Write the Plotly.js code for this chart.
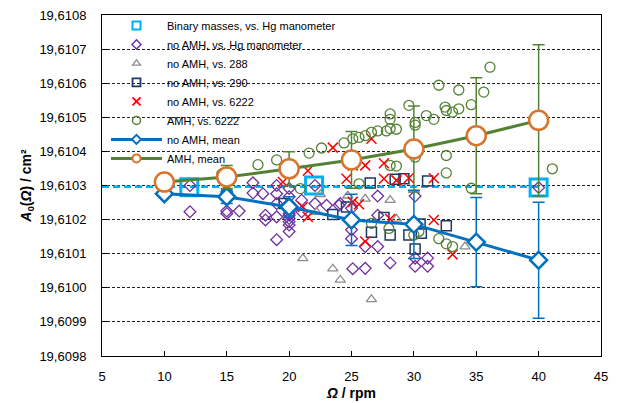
<!DOCTYPE html>
<html>
<head>
<meta charset="utf-8">
<script src="https://cdn.plot.ly/plotly-3.0.1.min.js"></script>
<style>html,body{margin:0;padding:0;background:#fff;}#chart{width:630px;height:403px;}</style>
</head>
<body>
<div id="chart"></div>
<script>
// ---- data ----
const binaryX = [12, 22, 40];
const binaryY = [19.610295, 19.610300, 19.610294];

const hgX = [12.05,12.05,15.0,15.0,15.0,15.0,16.0,17.1,17.1,17.9,18.1,18.1,19.0,19.0,19.0,19.0,19.0,
  20.0,20.0,20.0,20.0,20.0,20.0,20.0,20.0,20.0,20.0,21.0,21.0,22.07,22.07,23.0,24.0,24.1,
  25.0,25.0,25.0,25.0,25.1,26.1,26.1,27.1,27.1,27.1,28.1,30.1,30.1,30.1,31.1,31.1,40.0];
const hgY = [19.610300,19.610223,19.610308,19.610281,19.610225,19.610218,19.610225,19.610308,19.610278,
  19.610276,19.610213,19.610199,19.610300,19.610276,19.610247,19.610208,19.610141,
  19.610291,19.610267,19.610247,19.610228,19.610218,19.610213,19.610203,19.610194,19.610184,19.610165,
  19.610257,19.610223,19.610300,19.610247,19.610242,19.610242,19.610247,
  19.610233,19.610194,19.610170,19.610144,19.610056,19.610121,19.610057,19.610269,19.610213,19.610121,
  19.610073,19.610269,19.610087,19.610063,19.610087,19.610063,19.610294];

const s288X = [21.1,22.2,22.5,23.5,24.1,24.7,26.1,26.6,28.1,28.6,34.1];
const s288Y = [19.610086,19.610222,19.610274,19.610056,19.610023,19.610270,19.610261,19.609966,19.610257,19.610202,19.610121];

const s290X = [19.6,23.5,24.6,26.5,26.6,27.6,28.1,28.5,29.2,29.6,30.1,30.5,30.6,31.1,32.6];
const s290Y = [19.610247,19.610215,19.610237,19.610307,19.610163,19.610206,19.610155,19.610318,19.610320,
  19.610155,19.610114,19.610187,19.610160,19.610313,19.610182];

const s6222X = [19.5,21.1,21.5,21.5,23.5,24.6,25.1,25.1,25.6,26.1,26.1,26.6,27.6,27.6,28.1,28.6,29.6,31.6,31.6,33.1];
const s6222Y = [19.610310,19.610237,19.610343,19.610208,19.610411,19.610320,19.610359,19.610252,19.610245,
  19.610359,19.610136,19.610437,19.610365,19.610320,19.610202,19.610315,19.610322,19.610321,19.610199,19.610098];

const amhX = [14.6,17.5,19.0,20.9,21.6,22.6,24.4,25.1,25.6,25.6,26.1,26.6,26.6,27.1,27.8,28.0,28.1,28.1,28.1,28.1,
  28.6,28.6,29.6,30.0,30.1,30.1,30.1,30.4,31.0,31.6,32.0,32.0,32.5,32.6,32.6,32.6,32.6,33.1,33.1,33.6,33.6,
  34.6,34.6,35.6,36.1,41.1];
const amhY = [19.610334,19.610361,19.610375,19.610291,19.610395,19.610410,19.610425,19.610437,19.610441,19.610305,
  19.610446,19.610456,19.610189,19.610460,19.610460,19.610174,19.610510,19.610494,19.610467,19.610359,
  19.610465,19.610357,19.610535,19.610155,19.610485,19.610477,19.610383,19.610165,19.610505,19.610494,
  19.610594,19.610144,19.610530,19.610520,19.610388,19.610337,19.610129,19.610515,19.610121,19.610580,19.610525,
  19.610537,19.610292,19.610574,19.610647,19.610349];

const meanX = [10, 15, 20, 25, 30, 35, 40];
const noAmhMean = [19.610276,19.610267,19.610237,19.610199,19.610186,19.610134,19.610081];
const noAmhErr  = [0, 0.000020, 0.000030, 0.000075, 0.000100, 0.000131, 0.000170];
const amhMean   = [19.610310,19.610325,19.610349,19.610375,19.610407,19.610446,19.610491];
const amhErr    = [0, 0.000034, 0.000050, 0.000083, 0.000126, 0.000170, 0.000222];

const seriesNames = ['Binary masses, vs. Hg manometer', 'no AMH, vs. Hg manometer', 'no AMH, vs. 288',
  'no AMH, vs. 290', 'no AMH, vs. 6222', 'AMH, vs. 6222', 'no AMH, mean', 'AMH, mean'];

const xRange = [5, 45];
const yRange = [19.6098, 19.6108];

// derived: mean of binary masses as a dashed line from axis start to last binary point
const binaryMean = binaryY.reduce((a, b) => a + b, 0) / binaryY.length;
const binaryLineX = [xRange[0], Math.max(...binaryX)];
const binaryLineY = binaryLineX.map(() => binaryMean);

const C = {bin: '#00B0F0', hg: '#7030A0', g288: '#8C8C8C', n290: '#1F3864', red: '#FF0000',
           green: '#548235', blue: '#0070C0', orange: '#D9742C'};

const traces = [
  {x: binaryLineX, y: binaryLineY, mode: 'lines', showlegend: false, hoverinfo: 'skip',
   line: {color: C.bin, width: 2.5, dash: '7px,4px'}},
  {x: binaryX, y: binaryY, mode: 'markers', showlegend: false,
   marker: {symbol: 'square-open', size: 17, color: C.bin, line: {width: 3, color: C.bin}}},
  {x: hgX, y: hgY, mode: 'markers', showlegend: false,
   marker: {symbol: 'diamond-open', size: 9, color: C.hg, line: {width: 1.3, color: C.hg}}},
  {x: s288X, y: s288Y, mode: 'markers', showlegend: false,
   marker: {symbol: 'triangle-up-open', size: 9, color: C.g288, line: {width: 1.3, color: C.g288}}},
  {x: s290X, y: s290Y, mode: 'markers', showlegend: false,
   marker: {symbol: 'square-open', size: 10, color: C.n290, line: {width: 1.5, color: C.n290}}},
  {x: s6222X, y: s6222Y, mode: 'markers', showlegend: false,
   marker: {symbol: 'x-thin', size: 10, color: C.red, line: {width: 1.5, color: C.red}}},
  {x: amhX, y: amhY, mode: 'markers', showlegend: false,
   marker: {symbol: 'circle-open', size: 10, color: C.green, line: {width: 1.3, color: C.green}}},
  {x: meanX, y: noAmhMean, mode: 'lines+markers', showlegend: false,
   line: {color: C.blue, width: 3},
   marker: {symbol: 'diamond', size: 13, color: '#ffffff', line: {width: 2.5, color: C.blue}},
   error_y: {type: 'data', array: noAmhErr, visible: true, color: C.blue, thickness: 1.5, width: 6}},
  {x: meanX, y: amhMean, mode: 'lines+markers', showlegend: false,
   line: {color: C.green, width: 3},
   marker: {symbol: 'circle', size: 19, color: '#ffffff', line: {width: 2.5, color: C.orange}},
   error_y: {type: 'data', array: amhErr, visible: true, color: C.green, thickness: 1.5, width: 6}}
];

// legend-only entries (no data points), with the small key symbols of the reference
const legendStyles = [
  {mode: 'markers', marker: {symbol: 'square-open', size: 8, color: C.bin, line: {width: 2, color: C.bin}}},
  {mode: 'markers', marker: {symbol: 'diamond-open', size: 7, color: C.hg, line: {width: 1.4, color: C.hg}}},
  {mode: 'markers', marker: {symbol: 'triangle-up-open', size: 7, color: C.g288, line: {width: 1.3, color: C.g288}}},
  {mode: 'markers', marker: {symbol: 'square-open', size: 8, color: C.n290, line: {width: 1.8, color: C.n290}}},
  {mode: 'markers', marker: {symbol: 'x-thin', size: 8, color: C.red, line: {width: 1.8, color: C.red}}},
  {mode: 'markers', marker: {symbol: 'circle-open', size: 8, color: C.green, line: {width: 1.5, color: C.green}}},
  {mode: 'lines+markers', line: {color: C.blue, width: 3},
   marker: {symbol: 'diamond', size: 7, color: '#ffffff', line: {width: 2, color: C.blue}}},
  {mode: 'lines+markers', line: {color: C.green, width: 3},
   marker: {symbol: 'circle', size: 8, color: '#ffffff', line: {width: 2, color: C.orange}}}
];
legendStyles.forEach((s, i) => {
  traces.push(Object.assign({x: [null], y: [null], name: seriesNames[i], showlegend: true, hoverinfo: 'skip'}, s));
});

const layout = {
  width: 630, height: 403,
  margin: {l: 102, r: 29, t: 11, b: 47},
  paper_bgcolor: '#ffffff', plot_bgcolor: '#ffffff',
  font: {family: 'Liberation Sans, Arial, sans-serif', color: '#000', size: 13},
  separators: ',.',
  showlegend: true,
  legend: {x: 0.008, y: 1.012, xanchor: 'left', yanchor: 'top', bgcolor: 'rgba(0,0,0,0)',
           borderwidth: 0, font: {size: 11}, itemwidth: 51, tracegroupgap: 0, itemsizing: 'trace'},
  shapes: [
    {type: 'rect', xref: 'paper', yref: 'paper', x0: 0.002, x1: 0.468, y0: 0.625, y1: 0.997,
     fillcolor: '#ffffff', line: {width: 0}, layer: 'between'}
  ],
  xaxis: {range: xRange, tick0: 5, dtick: 5, ticks: 'inside', ticklen: 5, tickcolor: '#000',
          showline: true, linecolor: '#000', linewidth: 1, mirror: true,
          showgrid: false, zeroline: false, tickfont: {size: 13}, ticklabelstandoff: 8,
          title: {text: '<b><i>Ω</i> / rpm</b>', font: {size: 14}, standoff: 5}},
  yaxis: {range: yRange, tick0: 19.6098, dtick: 0.0001, tickformat: '.4f', ticks: 'inside', ticklen: 5,
          tickcolor: '#000', showline: true, linecolor: '#000', linewidth: 1, mirror: true,
          showgrid: true, gridcolor: '#222', gridwidth: 1, griddash: '3px,2px', zeroline: false,
          tickfont: {size: 13}, ticklabelstandoff: 12,
          title: {text: '<b><i>A</i><sub>0</sub>(<i>Ω</i>) / cm²</b>', font: {size: 14}, standoff: 4}}
};

Plotly.newPlot('chart', traces, layout, {displayModeBar: false, staticPlot: true});
</script>
</body>
</html>
